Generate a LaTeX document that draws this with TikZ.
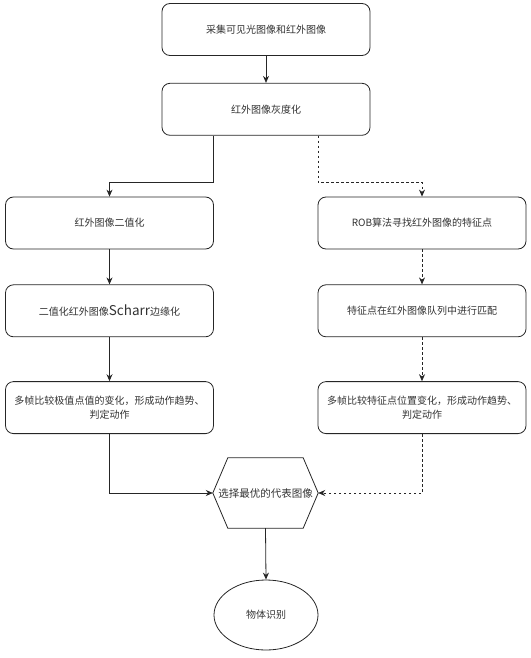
\documentclass[tikz,border=0pt]{standalone}
\usepackage{fontspec}
\newfontfamily\cjk{Noto Sans CJK SC}
\usepackage{tikz}
\usetikzlibrary{shapes.geometric,arrows.meta,positioning}
\tikzset{
  fbox/.style={rectangle, rounded corners=8bp,
               draw=black!85, line width=0.8bp, fill=white,
               minimum width=208bp, minimum height=52bp,
               text width=200bp, align=center, inner sep=2bp,
               font=\cjk\fontsize{10bp}{14bp}\selectfont, text=black!80},
  fhex/.style={minimum width=105bp, minimum height=70bp, inner sep=0pt,
               font=\cjk\fontsize{10.5bp}{13bp}\selectfont, text=black!80},
  fend/.style={ellipse, draw=black!85, line width=0.8bp,
               minimum width=104bp, minimum height=70bp,
               font=\cjk\fontsize{10bp}{13bp}\selectfont, text=black!80},
  farr/.style={-{Stealth[length=7bp,width=6bp]}, line width=0.8bp, black!85},
  fdarr/.style={farr, dash pattern=on 2.5bp off 2.5bp}
}
\begin{document}
\begin{tikzpicture}[x=1bp, y=-1bp]
\useasboundingbox (0,0) rectangle (531,658);
\node[fbox] (collect) at (266,29.5) {采集可见光图像和红外图像};
\node[fbox, below=27bp of collect] (gray) {红外图像灰度化};
\node[fbox] (bin) at (109.5,223) {红外图像二值化};
\node[fbox, below=35bp of bin] (edge) {二值化红外图像{\fontsize{13.5bp}{14bp}\selectfont Scharr}边缘化};
\node[fbox, below=44bp of edge] (cmpL) {多帧比较极值点值的变化，形成动作趋势、\\判定动作};
\node[fbox] (orb) at (422,223) {ROB算法寻找红外图像的特征点};
\node[fbox, below=35bp of orb] (match) {特征点在红外图像队列中进行匹配};
\node[fbox, below=44bp of match] (cmpR) {多帧比较特征点位置变化，形成动作趋势、\\判定动作};
\node[fhex] (select) at (265.5,493) {选择最优的代表图像};
\draw[line width=0.8bp, black!85]
  ([xshift=15bp]select.north west) -- ([xshift=-15bp]select.north east)
  -- (select.east) -- ([xshift=-15bp]select.south east)
  -- ([xshift=15bp]select.south west) -- (select.west) -- cycle;
\node[fend] (recog) at (266,615) {物体识别};
\draw[farr] (collect) -- (gray);
\draw[farr] ([xshift=-53bp]gray.south) -- ++(0,47) -| (bin.north);
\draw[fdarr] ([xshift=52bp]gray.south) -- ++(0,47) -| (orb.north);
\draw[farr] (bin) -- (edge);
\draw[farr] (edge) -- (cmpL);
\draw[fdarr] (orb) -- (match);
\draw[fdarr] (match) -- (cmpR);
\draw[farr] (cmpL.south) |- (select.west);
\draw[fdarr] (cmpR.south) |- (select.east);
\draw[farr] (select.south) -- (recog.north);
\end{tikzpicture}
\end{document}
